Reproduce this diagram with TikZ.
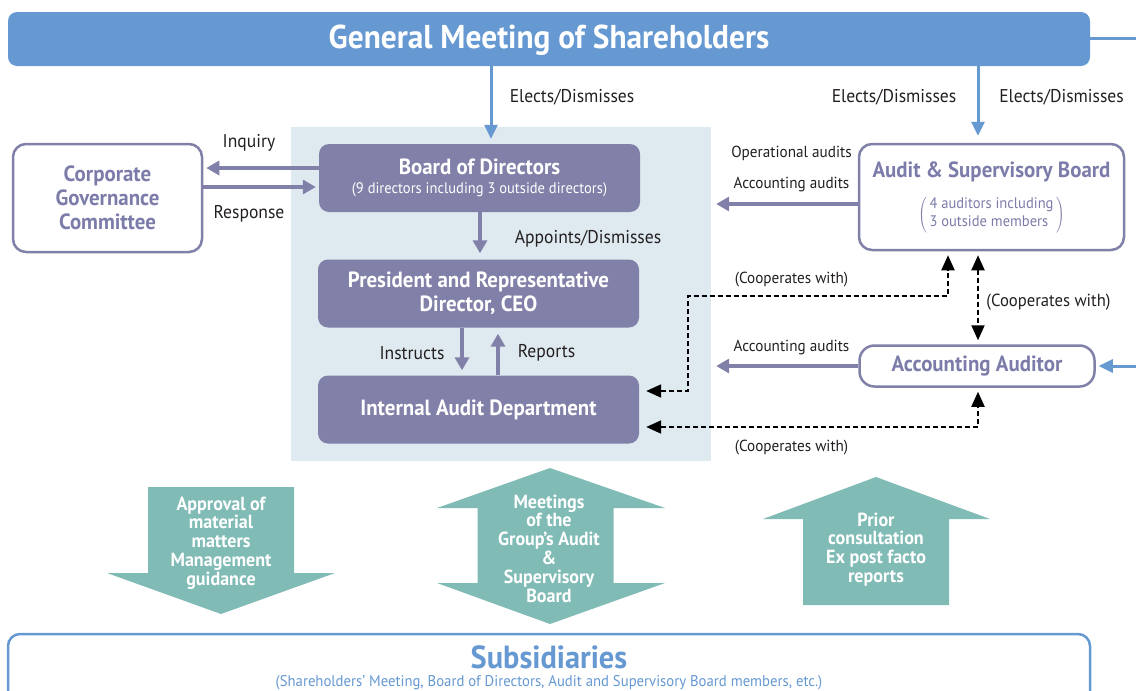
\documentclass[tikz,border=0pt]{standalone}
\usepackage{fontspec}
\setmainfont{PT Sans}[FakeStretch=0.95]
\usetikzlibrary{arrows.meta}
\definecolor{gmblue}{HTML}{6699D2}
\definecolor{purp}{HTML}{8080A8}
\definecolor{purptext}{HTML}{7C7CAA}
\definecolor{teal}{HTML}{80BBB5}
\definecolor{lightbg}{HTML}{DFEAF0}
\definecolor{lbltext}{HTML}{231F20}
\newcommand{\fs}[2]{\fontsize{#1}{#2}\selectfont}
\tikzset{
  purplebox/.style={rectangle, rounded corners=10pt, fill=purp, text=white, align=center, inner sep=0pt},
  whitebox/.style={rectangle, rounded corners=13pt, draw=purp, line width=2.5pt, fill=white, text=purptext, align=center, inner sep=0pt},
  lbl/.style={font=\fs{18.5}{20}, text=lbltext, inner sep=0pt},
  lblr/.style={font=\fs{16}{17}, text=lbltext, inner sep=0pt},
  boxfont/.style={font=\bfseries\fs{22}{24}},
  tealtext/.style={font=\bfseries\fs{19}{18.8}, text=white, align=center, inner sep=0pt},
  parr/.style={draw=purp, line width=3.5pt, -{Triangle[length=13pt,width=14pt]}},
  barr/.style={draw=gmblue, line width=3pt, -{Triangle[length=14pt,width=13pt]}},
  darr/.style={draw=black, line width=2pt, dash pattern=on 5pt off 3pt, {Triangle[length=15pt,width=13pt]}-{Triangle[length=15pt,width=13pt]}}
}
\begin{document}
\begin{tikzpicture}[x=1pt,y=-1pt]
\useasboundingbox (0,0) rectangle (1136,691);
\clip (0,0) rectangle (1136,691);

% background panel
\node[fill=lightbg, minimum width=420pt, minimum height=334pt, inner sep=0pt] (bg) at (501,294) {};

% top bar
\node[rectangle, rounded corners=9pt, fill=gmblue, minimum width=1082pt, minimum height=54pt, inner sep=0pt] (gm) at (549,39) {};
\node[text=white, font=\bfseries\fs{33}{35}, inner sep=0pt] (gmt) at (549,40) {General Meeting of Shareholders};

% purple boxes
\node[purplebox, minimum width=321pt, minimum height=68pt] (bod) at (479.5,178) {};
\node[text=white, boxfont, inner sep=0pt] (bodt) at (479.5,167) {Board of Directors};
\node[text=white, font=\fs{15.3}{17}, inner sep=0pt] (bods) at (479.5,190) {(9 directors including 3 outside directors)};

\node[purplebox, minimum width=321pt, minimum height=68pt, boxfont] (pres) at (478.5,293.5) {President and Representative\\Director, CEO};

\node[purplebox, minimum width=321pt, minimum height=68pt, boxfont] (iad) at (478.5,409.5) {Internal Audit Department};

% white boxes
\node[whitebox, minimum width=189pt, minimum height=108pt, font=\bfseries\fs{22}{23.8}] (cgc) at (107.5,198) {Corporate\\Governance\\Committee};

\node[whitebox, minimum width=265pt, minimum height=106pt] (asb) at (991.5,197) {};
\node[text=purptext, boxfont, inner sep=0pt] (asbt) at (991.5,171.5) {Audit \& Supervisory Board};
\node[text=purptext, inner sep=0pt] (asbs) at (991.5,214.5) {$\left(\mbox{\fs{15.3}{18}\begin{tabular}{@{\,}l@{\,}}4 auditors including\\3 outside members\end{tabular}}\right)$};

\node[whitebox, rounded corners=15pt, minimum width=235pt, minimum height=41pt, boxfont] (aa) at (977,366) {Accounting Auditor};

% subsidiaries
\node[rectangle, rounded corners=12pt, draw=gmblue, line width=2.5pt, fill=white, minimum width=1082pt, minimum height=80pt, inner sep=0pt] (sub) at (549,674) {};
\node[text=gmblue, font=\bfseries\fs{32}{34}, inner sep=0pt] (subt) at (549,657) {Subsidiaries};
\node[text=gmblue, font=\fs{15.5}{17}, inner sep=0pt] (subs) at (549,683) {(Shareholders’ Meeting, Board of Directors, Audit and Supervisory Board members, etc.)};

% blue connectors
\coordinate (offR1) at (1142,38);
\coordinate (offR2) at (1142,366);
\draw[draw=gmblue, line width=3pt] (gm.east |- 0,38) -- (offR1);
\draw[barr, shorten >=5pt] (gm.south -| 491,0) -- (bod.north -| 491,0);
\draw[barr, shorten >=7pt] (gm.south -| 978,0) -- (asb.north -| 978,0);
\draw[barr, shorten >=3pt] (offR2) -- (aa.east);

% purple connectors
\draw[parr, shorten >=3pt] (bod.west |- 0,168) -- (cgc.east |- 0,168);
\draw[parr, shorten >=3pt] (cgc.east |- 0,187) -- (bod.west |- 0,187);
\draw[parr, shorten >=6pt] (bod.south -| 480,0) -- (pres.north -| 480,0);
\draw[parr, shorten >=5pt] (pres.south -| 462,0) -- (iad.north -| 462,0);
\draw[parr, shorten >=6pt] (iad.north -| 498,0) -- (pres.south -| 498,0);
\draw[parr, shorten >=5pt] (asb.west |- 0,204) -- (bg.east |- 0,204);
\draw[parr, shorten >=5pt] (aa.west) -- (bg.east |- aa.west);

% dashed connectors
\draw[darr] ([shift={(7,-18.5)}]iad.east) -| (688,296) -| ([shift={(-43.5,4)}]asb.south);
\draw[darr] ([shift={(7,17.5)}]iad.east) -| ([shift={(1,4)}]aa.south);
\draw[darr] ([shift={(-13.5,4)}]asb.south) -- ([shift={(1,-4)}]aa.north);

% labels
\node[lbl] (l1) at (572,97) {Elects/Dismisses};
\node[lbl] (l2) at (894,97) {Elects/Dismisses};
\node[lbl] (l3) at (1061.5,97) {Elects/Dismisses};
\node[lbl] (l4) at (249,143) {Inquiry};
\node[lbl] (l5) at (249,213.5) {Response};
\node[lbl] (l6) at (588,239) {Appoints/Dismisses};
\node[lbl] (l7) at (412,353) {Instructs};
\node[lbl] (l8) at (546.5,353) {Reports};
\node[lblr] (l9) at (791.5,153) {Operational audits};
\node[lblr] (l10) at (791.5,184.5) {Accounting audits};
\node[lblr] (l11) at (791.5,279.5) {(Cooperates with)};
\node[lbl, font=\fs{17.5}{19}] (l12) at (1048.5,302) {(Cooperates with)};
\node[lblr] (l13) at (791.5,347.5) {Accounting audits};
\node[lblr] (l14) at (791.5,447.5) {(Cooperates with)};

% teal arrows
\fill[teal] (148,487) -- (294,487) -- (294,573) -- (335,573) -- (221,614) -- (107,573) -- (148,573) -- cycle;
\node[tealtext] (t1) at (221,543) {Approval of\\material\\matters\\Management\\guidance};

\fill[teal] (550,468) -- (665,508) -- (613.5,508) -- (613.5,583) -- (665,583) -- (550,624) -- (437,583) -- (477.5,583) -- (477.5,508) -- (437,508) -- cycle;
\node[tealtext] (t2) at (549,548.5) {Meetings\\of the\\Group’s Audit\\\&\\Supervisory\\Board};

\fill[teal] (876,477) -- (990,519) -- (949,519) -- (949,605) -- (803,605) -- (803,519) -- (763,519) -- cycle;
\node[tealtext] (t3) at (876,549.5) {Prior\\consultation\\Ex post facto\\reports};
\end{tikzpicture}
\end{document}
